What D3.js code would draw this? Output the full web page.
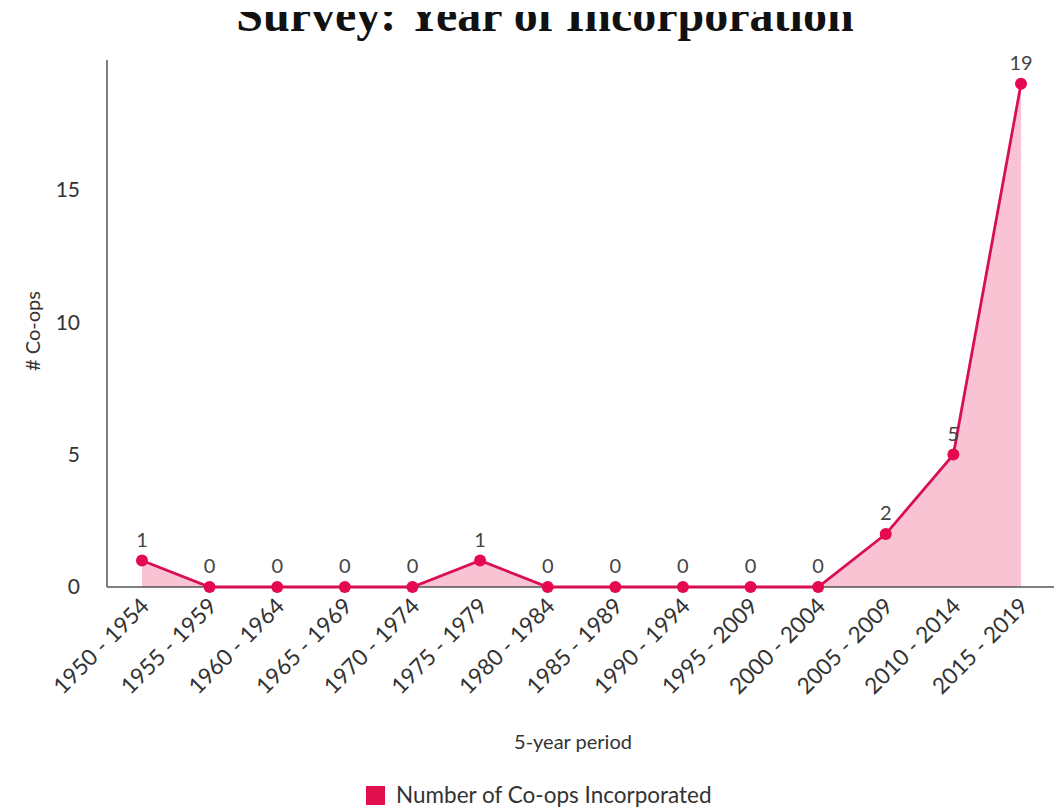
<!DOCTYPE html>
<head>
    <meta charset="utf-8">
    <script src="https://d3js.org/d3.v7.min.js"></script>
    <style>
        body { margin:0; background:#fff; }
        text { font-family: Lato, sans-serif; fill: #333; }
        .title { font-family: "Liberation Serif", serif; font-weight: bold; font-size: 48px; fill: #111; text-anchor: middle; }
        .tick-label { font-size: 21px; fill: #333; }
        .xtick { font-size: 22.5px; fill: #333; }
        .axis-line { stroke: #555; stroke-width: 1.5; fill: none; }
        .area { fill: #f9c3d4; }
        .line { stroke: #d80f55; stroke-width: 2.8; fill: none; }
        .dot { fill: #e5094f; }
        .value { font-size: 20px; fill: #444; text-anchor: middle; }
        .axis-title { font-size: 20px; fill: #333; text-anchor: middle; }
    </style>
</head>

<body>
<script>
    var periods = ['1950 - 1954', '1955 - 1959', '1960 - 1964', '1965 - 1969', '1970 - 1974',
        '1975 - 1979', '1980 - 1984', '1985 - 1989', '1990 - 1994', '1995 - 2009',
        '2000 - 2004', '2005 - 2009', '2010 - 2014', '2015 - 2019'];
    var counts = [1, 0, 0, 0, 0, 1, 0, 0, 0, 0, 0, 2, 5, 19];
    var yTicks = [0, 5, 10, 15];
    var seriesName = 'Number of Co-ops Incorporated';

    var width = 1054;
    var height = 809;
    var plotLeft = 107, plotBottom = 587, plotTop = 60;

    var data = periods.map((p, i) => ({ period: p, value: counts[i] }));

    var svg = d3.select("body").append("svg")
        .attr("width", width)
        .attr("height", height);

    var x = d3.scalePoint()
        .domain(periods)
        .range([142, 1021]);

    var y = d3.scaleLinear()
        .domain([0, 19.9])
        .range([plotBottom, plotTop]);

    // area + line
    var area = d3.area()
        .x(d => x(d.period))
        .y0(y(0))
        .y1(d => y(d.value));
    var line = d3.line()
        .x(d => x(d.period))
        .y(d => y(d.value));

    svg.append('path').datum(data).attr('class', 'area').attr('d', area);

    // axes lines
    svg.append('line').attr('class', 'axis-line')
        .attr('x1', plotLeft).attr('x2', plotLeft).attr('y1', plotTop).attr('y2', plotBottom);
    svg.append('line').attr('class', 'axis-line')
        .attr('x1', plotLeft).attr('x2', width).attr('y1', plotBottom).attr('y2', plotBottom);

    svg.append('path').datum(data).attr('class', 'line').attr('d', line);

    svg.selectAll('.dot')
        .data(data)
        .enter()
        .append('circle')
        .attr('class', 'dot')
        .attr('cx', d => x(d.period))
        .attr('cy', d => y(d.value))
        .attr('r', 6);

    svg.selectAll('.value')
        .data(data)
        .enter()
        .append('text')
        .attr('class', 'value')
        .attr('x', d => x(d.period))
        .attr('y', d => y(d.value) - 14)
        .text(d => d.value);

    // y tick labels
    svg.selectAll('.ytick')
        .data(yTicks)
        .enter()
        .append('text')
        .attr('class', 'tick-label')
        .attr('x', 80)
        .attr('y', d => y(d))
        .attr('dy', '0.35em')
        .attr('text-anchor', 'end')
        .text(d => d);

    // x tick labels
    svg.selectAll('.xtick')
        .data(periods)
        .enter()
        .append('text')
        .attr('class', 'xtick')
        .attr('text-anchor', 'end')
        .attr('transform', d => "translate(" + (x(d) + 3) + "," + (plotBottom + 15) + ") rotate(-45)")
        .attr('dy', '0.35em')
        .text(d => d);

    svg.append('text')
        .attr('class', 'axis-title')
        .attr('transform', "translate(40," + 331 + ") rotate(-90)")
        .text('# Co-ops');

    svg.append('text')
        .attr('class', 'axis-title')
        .attr('x', 573)
        .attr('y', 749)
        .text('5-year period');

    // legend
    svg.append('rect')
        .attr('x', 366).attr('y', 786)
        .attr('width', 19).attr('height', 19)
        .attr('fill', '#e0104f');
    svg.append('text')
        .attr('x', 396).attr('y', 803)
        .style('font-size', '22.5px')
        .text(seriesName);

    // title, clipped at top
    svg.append('text')
        .attr('class', 'title')
        .attr('x', 545)
        .attr('y', 31)
        .text('Survey: Year of Incorporation');
    svg.append('rect')
        .attr('x', 0).attr('y', 0)
        .attr('width', width).attr('height', 12)
        .attr('fill', '#fff');
</script>
</body>
